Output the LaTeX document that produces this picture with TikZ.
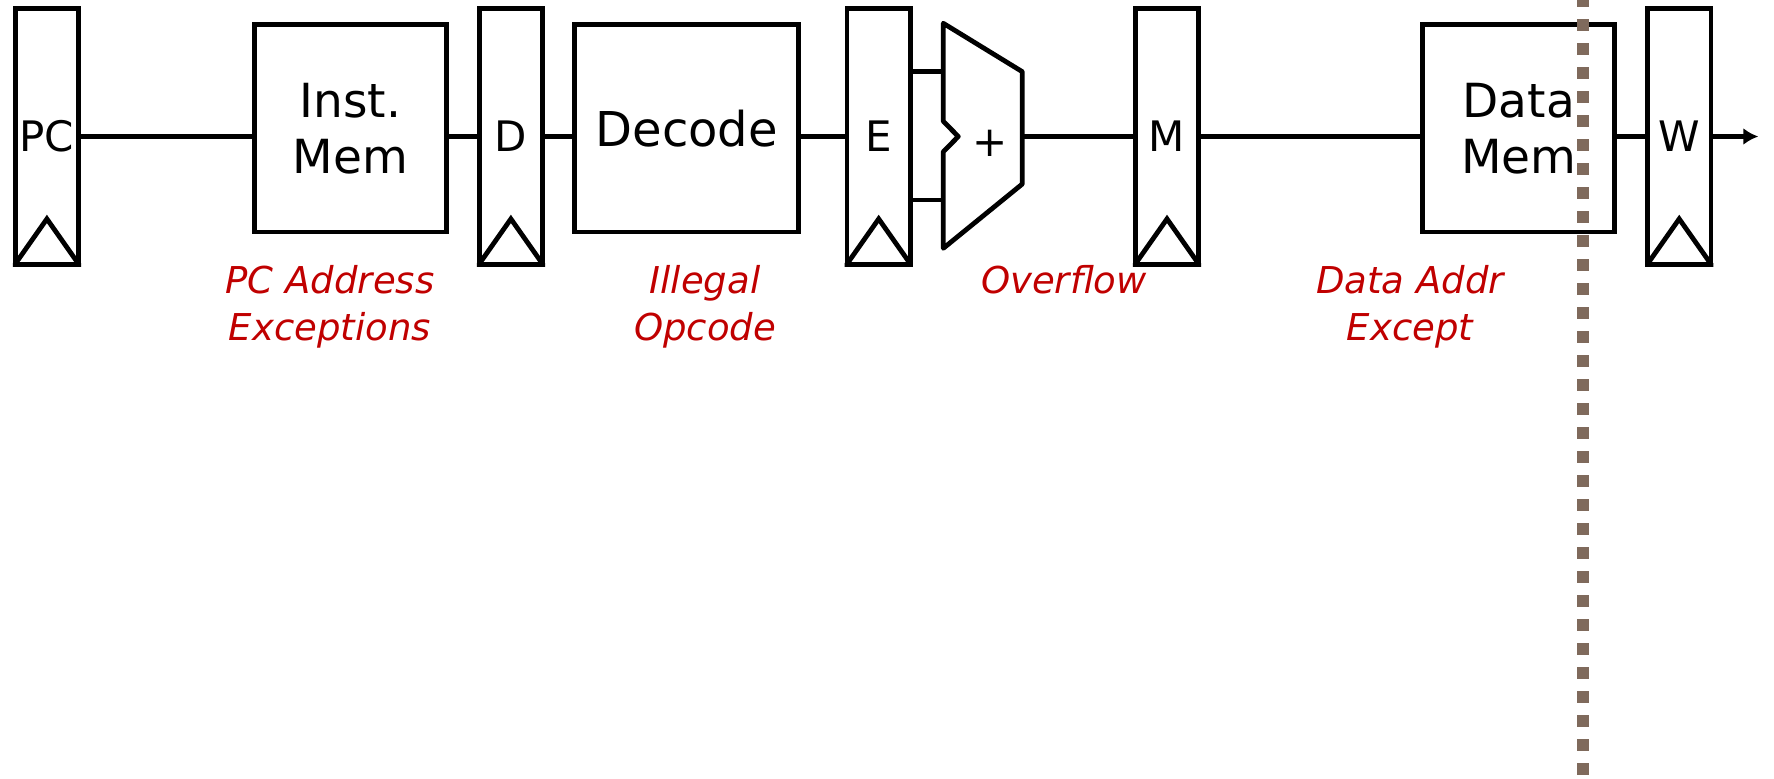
\documentclass[tikz,border=0pt]{standalone}
\usepackage{fontspec}
\setmainfont{DejaVu Sans}
\usetikzlibrary{arrows.meta,calc}
\definecolor{exred}{RGB}{192,0,0}
\definecolor{dashc}{RGB}{127,106,92}
\begin{document}
\begin{tikzpicture}[x=0.5pt,y=-0.5pt,
  wire/.style={line width=2.4pt},
  reg/.style={draw, line width=2.4pt, minimum width=31.75pt, minimum height=128pt, inner sep=0pt, font=\fontsize{21}{24}\selectfont},
  clk/.style={line width=2.4pt, line join=miter},
  blk/.style={draw, line width=2.4pt, inner sep=0pt, align=center, minimum height=103.65pt, font=\fontsize{23.5}{27.85}\selectfont},
  alu/.style={line width=2.4pt, line join=round},
  exc/.style={text=exred, align=center, inner sep=0pt, font=\itshape\fontsize{18.5}{23.3}\selectfont},
  cut/.style={line width=6pt, draw=dashc, dash pattern=on 6pt off 6pt}]
\useasboundingbox (0,0) rectangle (1774,778);

% pipeline registers
\node[reg] (pc) at (46.9,136.5) {PC};
\node[reg] (d)  at (510.9,136.5) {D};
\node[reg] (e)  at (878.7,136.5) {E};
\node[reg] (m)  at (1167,136.5) {M};
\node[reg] (w)  at (1679.2,136.5) {W};
\foreach \r in {pc,d,e,m,w}{
  \begin{scope}
    \clip (\r.south west) rectangle (\r.north east);
    \draw[clk] ($(\r.south west)+(-6.35,9.6)$) -- ($(\r.south)+(0,-48)$) -- ($(\r.south east)+(6.35,9.6)$);
  \end{scope}
}

% blocks
\node[blk, minimum width=95.65pt] (im) at (350.5,128.4) {Inst.\\Mem};
\node[blk, minimum width=112pt, font=\fontsize{24}{28}\selectfont] (dec) at (686.7,128.4) {Decode};
\node[blk, minimum width=96pt] (dm) at (1518.7,128.4) {Data\\Mem};

% ALU
\draw[alu] (943.3,23.3) -- (1022.3,71.7) -- (1022.3,184) -- (943.3,248.3)
  -- (943.3,151.7) -- (958.3,136.5) -- (943.3,121.3) -- cycle;
\node[inner sep=0pt, font=\fontsize{21}{24}\selectfont] (plus) at (990,143.5) {+};
\coordinate (aluin1) at (943.3,71.7);
\coordinate (aluin2) at (943.3,200);
\coordinate (aluout) at (1022.3,136.5);
\coordinate (outend) at (1758.3,136.5);

% wires
\draw[wire] (pc.east) -- (pc.east -| im.west);
\draw[wire] (im.east |- d.west) -- (d.west);
\draw[wire] (d.east) -- (d.east -| dec.west);
\draw[wire] (dec.east |- e.west) -- (e.west);
\draw[wire] (e.east |- aluin1) -- (aluin1);
\draw[wire] (e.east |- aluin2) -- (aluin2);
\draw[wire] (aluout) -- (m.west |- aluout);
\draw[wire] (m.east) -- (m.east -| dm.west);
\draw[wire] (dm.east |- w.west) -- (w.west);
\draw[wire, -{Latex[length=7.5pt,width=8.5pt]}] (w.east) -- (outend);

% exception labels
\node[exc] (l1) at (330,307) {PC Address\\Exceptions};
\node[exc] (l2) at (705,307) {Illegal\\Opcode};
\node[exc] (l3) at (1064,279.6) {Overflow};
\node[exc] (l4) at (1410,307) {Data Addr\\Except};

% commit point
\coordinate (cuttop) at (1583,-5);
\coordinate (cutbot) at (1583,775);
\draw[cut] (cuttop) -- (cutbot);
\end{tikzpicture}
\end{document}
